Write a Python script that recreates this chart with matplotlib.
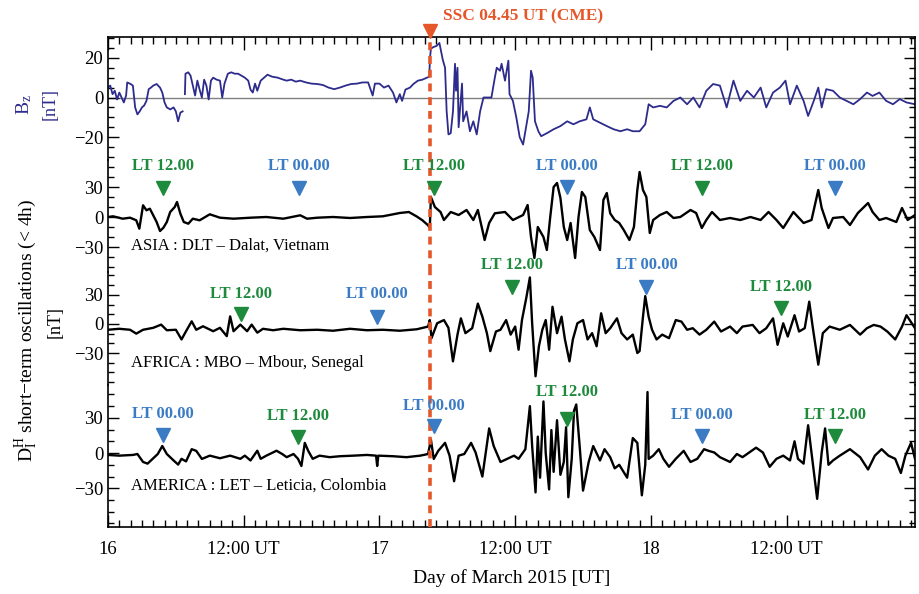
import numpy as np
import matplotlib
matplotlib.use("Agg")
import matplotlib.pyplot as plt
from matplotlib.ticker import MultipleLocator, FixedLocator

plt.rcParams['font.family'] = ['Liberation Serif', 'DejaVu Serif']
plt.rcParams['mathtext.fontset'] = 'custom'
plt.rcParams['mathtext.rm'] = 'Liberation Serif'
plt.rcParams['mathtext.it'] = 'Liberation Serif:italic'

# ---------------- data (hours since 16 March 2015 00:00 UT) ----------------
x_ticks = [0, 12, 24, 36, 48, 60]
x_tick_labels = ["16", "12:00 UT", "17", "12:00 UT", "18", "12:00 UT"]
ssc_t = 28.5

bz_t = [0.0, 0.2, 0.4, 0.6, 0.8, 1.0, 1.2, 1.4, 1.6, 1.7, 2.0, 2.2, 2.4, 2.6, 2.8, 3.0, 3.2, 3.4, 3.6, 3.8,
        4.0, 4.3, 4.6, 4.8, 5.0, 5.2, 5.5, 5.8, 6.0, 6.2, 6.4, 6.6, 6.7, 6.8, 6.85, 7.1, 7.3, 7.5, 7.7, 7.9,
        8.1, 8.3, 8.5, 8.7, 8.9, 9.1, 9.3, 9.6, 9.9, 10.1, 10.3, 10.6, 10.9, 11.2, 11.5, 11.8, 12.1, 12.4, 12.6, 12.8,
        13.0, 13.2, 13.5, 13.8, 14.1, 14.5, 15.0, 15.5, 15.8, 16.2, 16.6, 17.0, 17.5, 18.0, 18.5, 19.0, 19.5, 20.0, 20.5, 21.0,
        21.5, 22.0, 22.5, 23.0, 23.4, 23.6, 24.0, 24.4, 24.8, 25.2, 25.5, 25.8, 26.0, 26.3, 26.7, 27.0, 27.4, 27.8, 28.2, 28.4,
        28.47, 28.55, 28.76, 29.05, 29.3, 29.4, 29.6, 29.8, 29.94, 30.1, 30.3, 30.5, 30.68, 30.77, 30.9, 31.0, 31.3, 31.4, 31.7, 32.0,
        32.3, 32.6, 32.9, 33.2, 33.5, 33.9, 34.2, 34.37, 34.66, 34.8, 35.1, 35.4, 35.5, 35.8, 36.1, 36.4, 36.7, 36.96, 37.2, 37.4,
        37.55, 37.75, 38.05, 38.3, 38.8, 39.4, 40.0, 40.6, 41.15, 41.7, 42.3, 42.6, 42.9, 43.5, 44.1, 44.7, 45.3, 45.9, 46.4, 47.0,
        47.5, 47.8, 48.2, 48.8, 49.4, 50.0, 50.6, 51.2, 51.75, 52.3, 52.9, 53.5, 54.1, 54.7, 55.3, 55.9, 56.5, 57.1, 57.7, 58.2,
        58.8, 59.4, 59.9, 60.3, 60.9, 61.5, 61.9, 62.4, 62.8, 63.1, 63.5, 64.1, 64.7, 65.3, 65.9, 66.5, 67.1, 67.6, 68.2, 68.8,
        69.4, 70.0, 70.6, 71.35]
bz_v = [5, 6, 1.7, 3.4, -1, 2.5, 0, -2.5, 1, 7.6, 6.8, 6, -5, -8.5, -7, -5, -4, -1.7, 4.2, 5,
        6, 6.8, 5, 2.5, -2.5, -5, -6, -5, -7, -12, -7.6, -7, np.nan, 1.7, 12, 12.7, 11, 6, 1, 8.5,
        4, 0, 9, 6, -1, 8.5, 10, 9, 8.5, 0, 7, 12, 12.7, 12, 12, 11, 10, 8.5, 4, 2.5,
        7, 3.4, 8.5, 10, 11.5, 10.5, 10, 9, 8.5, 9, 8, 8.5, 7.6, 7, 6.8, 6.3, 5, 4.2, 5, 6,
        6.8, 7, 7.6, 7.6, 1, 7, 7, 5, 6, 2.5, -2.5, 1.7, -1.7, 4, 5, 6.8, 8.5, 9, 10, 10.5,
        20, 24.6, 25.4, 26, 27.5, 24.6, 19, 15, -6.8, -18.6, -18, -7, 17, 3.4, 15, -15, 7, -12, -7, -17,
        -12, -18.6, -7, 0, 0, 0, 10, 15, 13.5, 17, 8.5, 18.6, 1.7, -1.7, -10, -20, -23.7, -15, -7, 13.5,
        10, -12, -17, -19.5, -18, -16, -14.4, -12, -13.5, -12, -11, -5, -11, -12.7, -14.4, -16, -17, -16, -17, -17,
        -13.5, -3.4, -5, -4.2, -5, -1.7, 0, -3.4, 0, -5, 3.4, 6.8, 6, -5, 8.5, -1.7, 3.4, 0, 5, -5,
        2.5, 5, 8.5, -3.4, 6, -1.7, -9.3, -1.7, 5, -5, 4.2, 3.4, 0, -1.7, -3.4, -0.8, 2.5, 0.8, 2.5, -1.7,
        -3.4, -0.8, -2.5, -3.4]

asia_t = [0.0, 0.45, 1.3, 1.95, 2.5, 2.77, 3.1, 3.4, 3.7, 4.0, 4.3, 4.6, 4.9, 5.2, 5.5, 5.9, 6.1, 6.4, 6.7, 7.1,
          7.5, 8.1, 9.0, 9.9, 11.1, 12.6, 14.0, 15.5, 17.0, 17.6, 18.5, 19.9, 21.4, 22.9, 24.3, 25.8, 26.6, 27.3, 27.8, 28.3,
          28.45, 28.55, 28.9, 29.4, 29.7, 30.3, 31.0, 31.7, 32.3, 32.7, 33.3, 33.7, 34.2, 35.1, 35.8, 36.7, 37.1, 37.4, 37.7, 38.0,
          38.5, 38.8, 39.1, 39.4, 39.7, 40.0, 40.3, 40.6, 40.9, 41.3, 41.6, 41.9, 42.2, 42.6, 43.0, 43.5, 43.8, 44.1, 44.4, 44.8,
          45.2, 45.6, 46.1, 46.5, 46.8, 47.0, 47.3, 47.6, 47.9, 48.2, 48.8, 49.4, 50.0, 50.6, 51.5, 52.0, 52.5, 52.9, 53.4, 54.1,
          55.0, 55.9, 56.8, 57.7, 58.4, 59.1, 59.7, 60.6, 61.5, 62.2, 62.8, 63.1, 63.7, 64.1, 65.0, 65.6, 66.3, 67.2, 67.6, 68.2,
          68.8, 69.7, 70.2, 70.7, 71.35]
asia_v = [0, 0.7, -1.7, -0.7, -3.3, -11.7, 11.7, 6.7, 8.3, 1.7, -5, -14, -10.7, -5, 5, 10, 15, 3.3, -5, -6.7,
          -1.7, -3.3, 2.7, -0.7, -1.7, -0.7, 0, -1.7, 1.7, -1.7, -0.7, 0, -1, 0, 0.7, 4, 5, 0.5, -3.3, -8.3,
          -10.7, 20, 10, 5, -3, 5, 2, 7, -3, 7, -23, -6, 3.7, 5, -3, 2, 12, -20, -41, -10,
          -20, -33, 0, 30, 34, 19, -10, -23, -6, -41, 0, 25, 20, -13, -20, -33, 17, 24, 3.7, -3,
          -6, -13, -23, -10, 27, 45, 27, 20, -16, -3, 2, 5, -1, 0, 7, 4, -11, -3, 5, -3,
          -1, -3, 0, -3, 5, -3, -11, 5, -6, -3, 27, 9, -11, -1, 0, -8, 4, 14, 5, -3,
          -1, -5, 9, -3, 2]

africa_t = [0.0, 1.0, 1.95, 2.5, 3.1, 4.0, 4.7, 5.2, 6.0, 6.5, 6.9, 7.4, 7.8, 8.4, 9.3, 9.9, 10.5, 10.8, 11.1, 11.7,
            12.3, 12.7, 13.2, 13.7, 14.6, 15.5, 17.0, 18.5, 19.9, 21.4, 22.9, 24.3, 25.8, 27.3, 28.3, 28.45, 28.6, 29.1, 29.7, 30.1,
            30.5, 30.9, 31.2, 31.6, 32.2, 32.7, 33.1, 33.5, 33.8, 34.3, 34.7, 35.2, 35.6, 36.0, 36.3, 36.6, 37.0, 37.3, 37.5, 37.8,
            38.1, 38.4, 38.7, 39.0, 39.3, 39.7, 40.1, 40.4, 40.8, 41.1, 41.5, 42.0, 42.4, 42.8, 43.2, 43.6, 44.0, 44.4, 45.0, 45.4,
            45.9, 46.4, 46.8, 47.0, 47.3, 47.5, 47.8, 48.1, 48.5, 49.0, 49.6, 50.2, 50.7, 51.2, 51.7, 52.3, 52.9, 53.6, 54.2, 55.0,
            55.6, 56.1, 57.0, 57.6, 58.2, 58.8, 59.2, 59.7, 60.1, 60.7, 61.1, 61.6, 62.0, 62.3, 62.8, 63.2, 63.8, 64.7, 65.6, 66.5,
            67.1, 67.7, 68.3, 68.9, 69.6, 70.2, 70.6, 71.35]
africa_v = [-6, -5, -6, -10, -6, -4, -0.7, -6.5, -6, -16, -7.5, 2.7, -6, -2.4, -7.5, -4, -12.6, 7.8, -7.5, -0.7,
            -7.5, -0.7, -9, -5, -6.5, -5, -6.5, -6, -7, -5, -6.5, -6, -7, -5.5, -2.7, 4, -14.7, 0.7, 4, -4,
            -38.6, -11, 5.8, -9.5, -4.4, 21, 7.5, -9.5, -28, -7.8, -6, 4, -11, -2.7, -26.6, 4, 28, 48, 0.7, -54,
            -23, -6, 4, -26.6, 17.7, -9.5, 7.5, -16, -38.6, -16, 0.7, 4, -16, -9.5, -23, 11, -9.5, -4.4, 5.8, -9.5,
            -16, -11, -30, -28, 7.5, 28.7, 7.5, -6, -16, -11, -14.7, 4, 2.4, -6, -4.4, -11, -6, 2.4, -7.8, -2.7,
            -9.5, -2.7, -1, -9.5, -4.4, 5.8, -21.5, 0.7, -13, 9, -7.8, -4.4, 23, -2.7, -42, -9.5, -2.7, -6, -1, -11,
            -4.4, -1, -2.7, -7.8, -16, -2.7, 9, -4.4]

america_t = [0.0, 1.0, 2.2, 2.6, 3.1, 3.5, 4.0, 4.4, 4.8, 5.2, 5.8, 6.2, 6.5, 6.9, 7.4, 7.8, 8.3, 9.0, 9.9, 10.8,
             11.7, 12.1, 12.6, 13.2, 13.5, 14.0, 14.9, 15.4, 15.8, 16.4, 16.8, 17.1, 17.4, 17.7, 18.1, 18.7, 19.6, 20.5, 21.7, 22.9,
             23.7, 23.8, 23.9, 25.2, 26.4, 27.6, 28.3, 28.55, 28.8, 29.2, 29.8, 30.2, 30.6, 31.0, 31.5, 32.1, 32.5, 33.1, 33.7, 34.1,
             34.7, 35.3, 35.9, 36.3, 36.9, 37.1, 37.3, 37.5, 37.8, 38.0, 38.2, 38.5, 38.7, 39.0, 39.2, 39.4, 39.7, 40.0, 40.3, 40.5,
             40.7, 41.0, 41.2, 41.4, 41.7, 42.0, 42.5, 42.9, 43.5, 43.9, 44.4, 44.8, 45.2, 45.9, 46.4, 46.8, 47.2, 47.5, 47.7, 47.8,
             48.2, 48.7, 49.1, 49.6, 50.2, 50.9, 51.5, 52.1, 52.7, 53.1, 53.6, 54.1, 55.0, 55.6, 56.1, 57.3, 57.9, 58.5, 59.1, 59.7,
             60.3, 60.7, 61.0, 61.5, 61.9, 62.3, 62.7, 63.1, 63.4, 63.7, 64.1, 64.7, 65.6, 66.5, 67.2, 67.8, 68.4, 69.0, 69.6, 70.1,
             70.5, 71.0, 71.35]
america_v = [-1.6, -2.2, -1.6, -0.8, -7.6, -9, -4.4, -0.8, 6, -0.8, -6.3, -9.8, -4.9, -7.1, 3.3, 1.9, -5, -2.2, -4.4, -2.2,
             -4.9, -2.2, -6.3, 2, -4.9, -2.2, 2, -0.8, -3.5, -0.8, -4.9, -11, 8.7, 1.9, -4.9, -2.2, -3.5, -2.7, -2.2, -1.6,
             -2.2, -11, -2.2, -2.7, -3.5, -2.2, -0.8, 11.4, -5, 1.9, 8.7, -2.2, -24, -2.2, -0.8, 8.7, 0.5, -20, 21, 6,
             -7.6, -4.9, -2.2, -4.9, 3.3, 22, 40, 6, -33.5, 14, -21, 44, 0, -31, 19.6, -16, 28, -18.5, -7.6, 22,
             -37.6, -4.9, 36, 41.4, 6, -32, -7.6, 6, -6.3, 3.3, -3.5, -13, -10, -21, 12.8, 8.7, -36, -10, 52, -5,
             -2.2, 3.3, -4.9, -11.7, -4.9, 1.9, -7.6, -4.9, 3.3, 1.9, 0.5, -3.5, -7.6, -0.8, -3.5, 4.6, 0.5, -11.7, -4.9, -2.2,
             -6.3, 10, -4.9, -9, 23.7, -7.6, -39, 0.5, 21, -10, -6.3, -2.2, 3.3, -3.5, -14, -2.2, 3.3, -2.2, -4.9, -17,
             -2.2, 8.7, -4.9]

panel_names = ["ASIA : DLT \u2013 Dalat, Vietnam",
               "AFRICA : MBO \u2013 Mbour, Senegal",
               "AMERICA : LET \u2013 Leticia, Colombia"]

# LT markers: time [h], marker y, label y, kind
asia_lt_t = [4.85, 16.9, 28.8, 40.6, 52.5, 64.3]
asia_lt_kind = ["12", "00", "12", "00", "12", "00"]
asia_lt_my = [29, 29, 29, 30, 29, 29]
asia_lt_ly = [51, 51, 51, 51, 51, 51]

africa_lt_t = [11.8, 23.8, 35.7, 47.6, 59.5]
africa_lt_kind = ["12", "00", "12", "00", "12"]
africa_lt_my = [10, 7, 38, 38, 16.5]
africa_lt_ly = [31, 31, 61, 61, 38]

america_lt_t = [4.85, 16.8, 28.8, 40.6, 52.5, 64.3]
america_lt_kind = ["00", "12", "00", "12", "00", "12"]
america_lt_my = [15, 14, 23, 29, 14.5, 14.5]
america_lt_ly = [33, 32, 40, 52, 32.5, 32.5]

# ---------------- styling ----------------
W, H = 920, 594
fig = plt.figure(figsize=(W / 100, H / 100), dpi=100)

C_BZ = '#2d2b8c'
C_SSC = '#e5572b'
C_GREEN = '#1e8a3c'
C_BLUE = '#3a7bc4'

x0, x1 = 108, 915
xlim = (0, 71.35)


def add_ax(top, bottom, ylim):
    ax = fig.add_axes([x0 / W, 1 - bottom / H, (x1 - x0) / W, (bottom - top) / H])
    ax.set_xlim(*xlim)
    ax.set_ylim(*ylim)
    ax.set_facecolor('none')
    for s in ax.spines.values():
        s.set_linewidth(1.2)
    return ax


ax_bz = add_ax(37, 160, (-31.5, 30.5))
ax_as = add_ax(160, 272, (-55, 57))
ax_af = add_ax(272, 385, (-63, 53.6))
ax_am = add_ax(385, 527, (-63, 58))
axes = [ax_bz, ax_as, ax_af, ax_am]

for i, ax in enumerate(axes):
    ax.xaxis.set_major_locator(FixedLocator(x_ticks))
    ax.xaxis.set_minor_locator(MultipleLocator(1))
    ax.tick_params(axis='both', which='both', direction='in', labelsize=13.5)
    ax.tick_params(axis='y', which='major', length=8, width=1, left=True, right=True)
    ax.tick_params(axis='y', which='minor', length=4, width=1, left=True, right=True)
    ax.tick_params(axis='x', which='major', length=9, width=1)
    ax.tick_params(axis='x', which='minor', length=5, width=1)
    top_on = (i == 0)
    bot_on = (i == 3)
    ax.tick_params(axis='x', which='both', top=top_on, bottom=bot_on, labelbottom=bot_on, labeltop=False)
    if i != 0:
        ax.spines['top'].set_visible(False)
    if i != 3:
        ax.spines['bottom'].set_visible(False)

ax_am.set_xticklabels(x_tick_labels, fontsize=13.5)
ax_am.tick_params(axis='x', pad=10)

# Bz panel
ax_bz.yaxis.set_major_locator(FixedLocator([-20, 0, 20]))
ax_bz.yaxis.set_minor_locator(MultipleLocator(5))
ax_bz.axhline(0, color='#808080', lw=1.0, zorder=1)
ax_bz.plot(bz_t, bz_v, color=C_BZ, lw=1.3, zorder=2)

# D panels
for ax, t, v in [(ax_as, asia_t, asia_v), (ax_af, africa_t, africa_v), (ax_am, america_t, america_v)]:
    ax.yaxis.set_major_locator(FixedLocator([-30, 0, 30]))
    ax.yaxis.set_minor_locator(MultipleLocator(10))
    ax.plot(t, v, color='black', lw=1.7, zorder=2)

ax_as.text(2.0, -29, panel_names[0], fontsize=12, va='center', ha='left')
ax_af.text(2.0, -40, panel_names[1], fontsize=12, va='center', ha='left')
ax_am.text(2.0, -28, panel_names[2], fontsize=12, va='center', ha='left')


def lt_marks(ax, ts, kinds, mys, lys):
    for t, k, my, ly in zip(ts, kinds, mys, lys):
        c = C_GREEN if k == "12" else C_BLUE
        lab = "LT 12.00" if k == "12" else "LT 00.00"
        ax.plot([t], [my], marker='v', ms=10, color=c, clip_on=False, zorder=5, mec=c)
        ax.text(t, ly, lab, color=c, fontsize=12, fontweight='bold', ha='center', va='center',
                clip_on=False, zorder=6)


lt_marks(ax_as, asia_lt_t, asia_lt_kind, asia_lt_my, asia_lt_ly)
lt_marks(ax_af, africa_lt_t, africa_lt_kind, africa_lt_my, africa_lt_ly)
lt_marks(ax_am, america_lt_t, america_lt_kind, america_lt_my, america_lt_ly)

# SSC dashed line across all panels
for ax in axes:
    ax.axvline(ssc_t, color=C_SSC, lw=2.6, ls=(0, (2.2, 1.6)), zorder=4)
ax_bz.plot([ssc_t], [33.5], marker='v', ms=10, color=C_SSC, clip_on=False, zorder=6)
ax_bz.text(ssc_t + 1.1, 41, "SSC 04.45 UT (CME)", color=C_SSC, fontsize=12.5, fontweight='bold',
           ha='left', va='center', clip_on=False)

# axis labels
fig.text(24 / W, 1 - 105 / H, r"B$_\mathrm{z}$", rotation=90, color=C_BZ, fontsize=14,
         ha='center', va='center')
fig.text(50 / W, 1 - 104 / H, "[nT]", rotation=90, color=C_BZ, fontsize=13,
         ha='center', va='center')
fig.text(26 / W, 1 - 330 / H, r"D$^\mathrm{H}_\mathrm{I}$" + " short\u2212term oscillations (< 4h)",
         rotation=90, fontsize=14, ha='center', va='center')
fig.text(55 / W, 1 - 322 / H, "[nT]", rotation=90, fontsize=13, ha='center', va='center')
fig.text((x0 + x1) / 2 / W, 1 - 578 / H, "Day of March 2015 [UT]", fontsize=14,
         ha='center', va='center')

fig.savefig("out.png", dpi=100)
